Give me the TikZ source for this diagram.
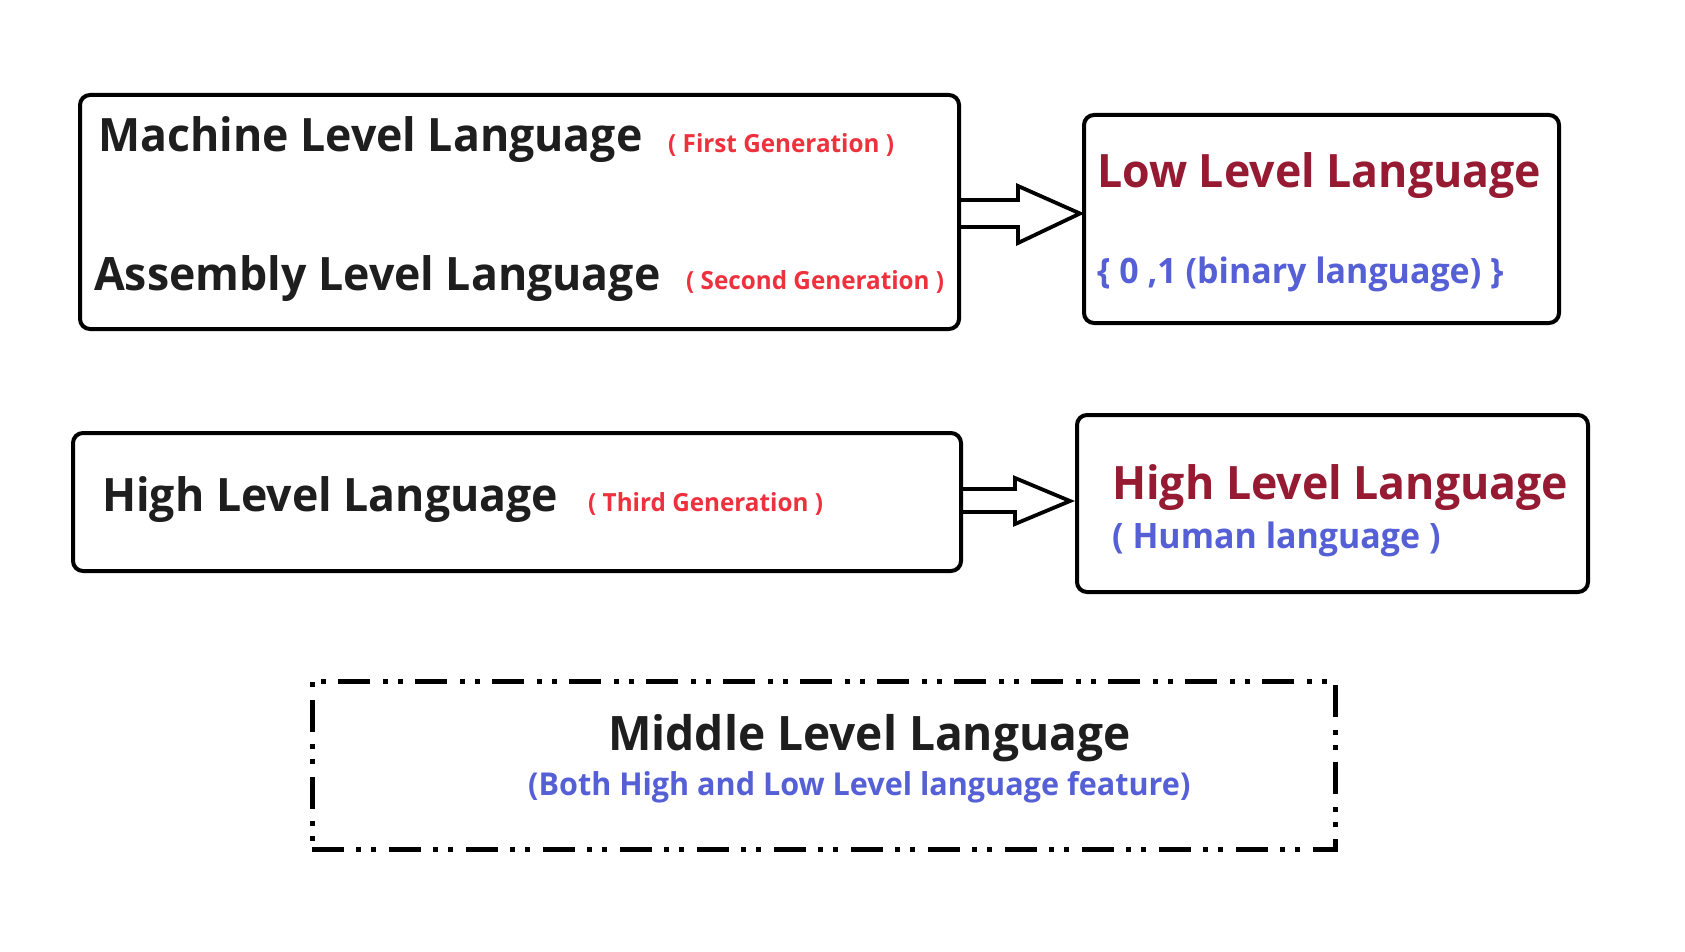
\documentclass[tikz,border=0pt]{standalone}
\usepackage{fontspec}
\setmainfont{Open Sans}[FakeStretch=0.97]
\usetikzlibrary{calc}
\definecolor{darkred}{RGB}{150,27,50}
\definecolor{genred}{RGB}{237,50,62}
\definecolor{langblue}{RGB}{86,96,214}
\definecolor{inkblack}{RGB}{30,30,30}

\begin{document}
\begin{tikzpicture}[x=1pt,y=-1pt,
    box/.style={draw,line width=4pt,rounded corners=10pt,inner sep=0pt},
    dashbox/.style={draw,line width=5pt,inner sep=0pt,dash pattern=on 32pt off 12pt on 5pt off 10pt on 5pt off 13pt},
    hollow/.style={draw,line width=3.8pt,line join=miter},
    big/.style={font=\fontsize{46}{50}\selectfont\bfseries,anchor=base west,inner sep=0pt,text=inkblack},
    gen/.style={font=\fontsize{25}{28}\selectfont\bfseries,anchor=base west,inner sep=0pt,text=genred},
    note/.style={font=\fontsize{35}{38}\selectfont\bfseries,anchor=base west,inner sep=0pt,text=langblue}]
  \fill[white] (0,0) rectangle (1685,952);
  \useasboundingbox (0,0) rectangle (1685,952);
  \node[box,minimum width=879pt,minimum height=234pt] (mlbox) at (519.5,212) {};
  \node[box,minimum width=475pt,minimum height=208pt] (llbox) at (1321.5,219) {};
  \node[box,minimum width=888pt,minimum height=138pt] (hlbox) at (517,502) {};
  \node[box,minimum width=511pt,minimum height=177pt] (hubox) at (1332.5,503.5) {};
  \node[dashbox,minimum width=1023pt,minimum height=168pt] (midbox) at (823.5,765) {};
  \node[big] (machine) at (98,152) {Machine Level Language};
  \node[gen] (first) at (668,153) {( First Generation )};
  \node[big] (assembly) at (94,290) {Assembly Level Language};
  \node[gen] (second) at (686,289) {( Second Generation )};
  \node[big,text=darkred] (low) at (1097,187) {Low Level Language};
  \node[note] (binary) at (1097,283) {\{ 0 ,1 (binary language) \}};
  \node[big] (high) at (102,511) {High Level Language};
  \node[gen] (third) at (588,511) {( Third Generation )};
  \node[big,text=darkred] (highr) at (1112,499) {High Level Language};
  \node[note] (human) at (1112,548) {( Human language )};
  \node[big,font=\fontsize{47.5}{52}\selectfont\bfseries] (middle) at (608,750) {Middle Level Language};
  \node[note,font=\fontsize{31.5}{34}\selectfont\bfseries] (both) at (528,795) {(Both High and Low Level language feature)};
  \draw[hollow] ($(mlbox.east)+(0,-12)$) -- ($(llbox.west |- mlbox.east)+(-64,-12)$) -- ++(0,-14) -- ($(llbox.west |- mlbox.east)+(-2,1.5)$) -- ($(llbox.west |- mlbox.east)+(-64,31)$) -- ++(0,-16) -- ($(mlbox.east)+(0,15)$);
  \draw[hollow] ($(hlbox.east)+(0,-13)$) -- ($(hubox.west |- hlbox.east)+(-60,-13)$) -- ++(0,-11) -- ($(hubox.west |- hlbox.east)+(-5,-1)$) -- ($(hubox.west |- hlbox.east)+(-60,22)$) -- ++(0,-12) -- ($(hlbox.east)+(0,10)$);
\end{tikzpicture}
\end{document}
